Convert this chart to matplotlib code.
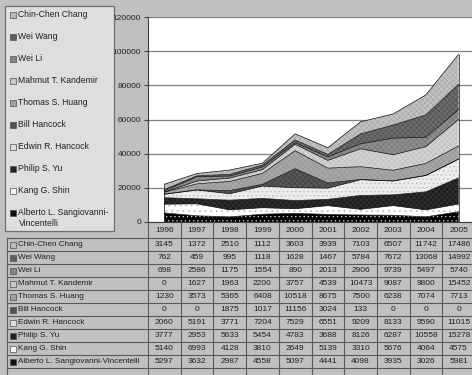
import numpy as np
import matplotlib.pyplot as plt
import matplotlib.transforms as mtransforms
from matplotlib.patches import Rectangle

plt.rcParams['font.family'] = ['Liberation Sans', 'DejaVu Sans']
plt.rcParams['hatch.linewidth'] = 0.4

years = ['1996', '1997', '1998', '1999', '2000', '2001', '2002', '2003', '2004', '2005']

# table / legend order (top to bottom)
names = ['Chin-Chen Chang', 'Wei Wang', 'Wei Li', 'Mahmut T. Kandemir', 'Thomas S. Huang',
         'Bill Hancock', 'Edwin R. Hancock', 'Philip S. Yu', 'Kang G. Shin',
         'Alberto L. Sangiovanni-Vincentelli']

chin_chen = [3145, 1372, 2510, 1112, 3603, 3939, 7103, 6507, 11742, 17486]
wei_wang = [762, 459, 995, 1118, 1628, 1467, 5784, 7672, 13068, 14992]
wei_li = [698, 2586, 1175, 1554, 890, 2013, 2906, 9739, 5497, 5740]
mahmut = [0, 1627, 1963, 2200, 3757, 4539, 10473, 9087, 9800, 15452]
thomas = [1230, 3573, 5365, 6408, 10518, 8675, 7500, 6238, 7074, 7713]
bill = [0, 0, 1875, 1017, 11156, 3024, 133, 0, 0, 0]
edwin = [2060, 5191, 3771, 7204, 7529, 6551, 9209, 8133, 9590, 11015]
philip = [3777, 2953, 5633, 5454, 4783, 3688, 8126, 6287, 10558, 15278]
kang = [5140, 6993, 4128, 3810, 2649, 5139, 3310, 5676, 4064, 4575]
alberto = [5297, 3632, 2987, 4558, 5097, 4441, 4098, 3935, 3026, 5981]

values = [chin_chen, wei_wang, wei_li, mahmut, thomas, bill, edwin, philip, kang, alberto]

# fill styles: (face, hatch colour, hatch, marker colour) in the same order as names
styles = [('#c2c2c2', '#a4a4a4', 'xxxxxx', '#b8b8b8'),
          ('#6c6c6c', '#4c4c4c', 'xxxxxx', '#606060'),
          ('#8e8e8e', '#747474', 'xxxxxx', '#858585'),
          ('#d2d2d2', '#bcbcbc', 'xxxxxx', '#c8c8c8'),
          ('#a6a6a6', '#969696', 'xxxxxx', '#a0a0a0'),
          ('#585858', '#3c3c3c', 'xxxxxx', '#505050'),
          ('#ececec', '#b4b4b4', '....', '#e0e0e0'),
          ('#1e1e1e', '#3a3a3a', 'xxxxxx', '#222222'),
          ('#ffffff', '#a8a8a8', '...', '#f4f4f4'),
          ('#000000', '#d8d8d8', '....', '#101010')]

bg = '#c0c0c0'
fig = plt.figure(figsize=(4.72, 3.75), dpi=100, facecolor=bg)

ax = fig.add_axes([148 / 472, 153 / 375, 327 / 472, 205 / 375])
ax.set_facecolor('white')
x = np.arange(len(years))
ax.set_xlim(-0.5, 9.5)
ax.set_ylim(0, 120000)
ax.set_yticks(np.arange(0, 120001, 20000))
ax.tick_params(axis='y', labelsize=6, length=3, width=0.8, color='#404040',
               labelcolor='#202020', pad=2)
ax.set_xticks([])
ax.grid(axis='y', color='#808080', linewidth=0.9)
ax.set_axisbelow(True)
for s in ['top', 'right']:
    ax.spines[s].set_visible(False)
for s in ['left', 'bottom']:
    ax.spines[s].set_color('#404040')
    ax.spines[s].set_linewidth(0.8)

base = np.zeros(len(years))
for vals, (fc, hc, hp, mc) in zip(values[::-1], styles[::-1]):
    top = base + np.array(vals)
    ax.fill_between(x, base, top, facecolor=fc, edgecolor=hc, hatch=hp, linewidth=0, zorder=2)
    ax.plot(x, top, color='#101010', linewidth=0.5, zorder=3)
    base = top
ax.vlines([x[0], x[-1]], 0, [base[0], base[-1]], color='#101010', linewidth=0.5, zorder=3)

# overlay in pixel coordinates for legend and data table
ov = fig.add_axes([0, 0, 1, 1], zorder=5)
ov.set_xlim(0, 472)
ov.set_ylim(375, 0)
ov.axis('off')
ov.patch.set_alpha(0)
col = mtransforms.blended_transform_factory(ax.transData, ov.transData)

# legend box
ov.add_patch(Rectangle((5, 6), 109, 225, facecolor='#dedede', edgecolor='#707070', linewidth=0.9))
leg_labels = names[:-1] + ['Alberto L. Sangiovanni-\nVincentelli']
for i, (lab, (fc, hc, hp, mc)) in enumerate(zip(leg_labels, styles)):
    yc = 15 + 22 * i
    ov.add_patch(Rectangle((9.5, yc - 3), 6, 6, facecolor=mc, edgecolor='#505050', linewidth=0.5))
    ov.text(18.5, yc - 5, lab, fontsize=6.2, color='#202020', va='top', ha='left', linespacing=1.25)

# data table
tcol = '#5a5a5a'
row0, rh = 238, 13
ov.plot([7, 472], [row0, row0], color=tcol, lw=0.8)
for k in range(1, len(names) + 1):
    ov.plot([7, 472], [row0 + rh * k] * 2, color=tcol, lw=0.8)
ov.plot([7, 7], [row0, 375], color=tcol, lw=0.8)
ov.plot([148, 148], [222, 375], color=tcol, lw=0.8)
for i in range(len(years)):
    ov.plot([i + 0.5, i + 0.5], [222, 375], color=tcol, lw=0.8, transform=col)
    ov.text(i, 230, years[i], transform=col, fontsize=6, ha='center', va='center', color='#202020')

for k, (lab, vals, (fc, hc, hp, mc)) in enumerate(zip(names, values, styles)):
    yc = row0 + rh * k + 6.5
    ov.add_patch(Rectangle((10, yc - 3), 6, 6, facecolor=mc, edgecolor='#505050', linewidth=0.5))
    ov.text(18.5, yc, lab, fontsize=5.9, color='#202020', ha='left', va='center')
    for i, v in enumerate(vals):
        ov.text(i, yc, str(v), transform=col, fontsize=6, ha='center', va='center', color='#202020')

plt.savefig('out.png', dpi=100, facecolor=bg)
